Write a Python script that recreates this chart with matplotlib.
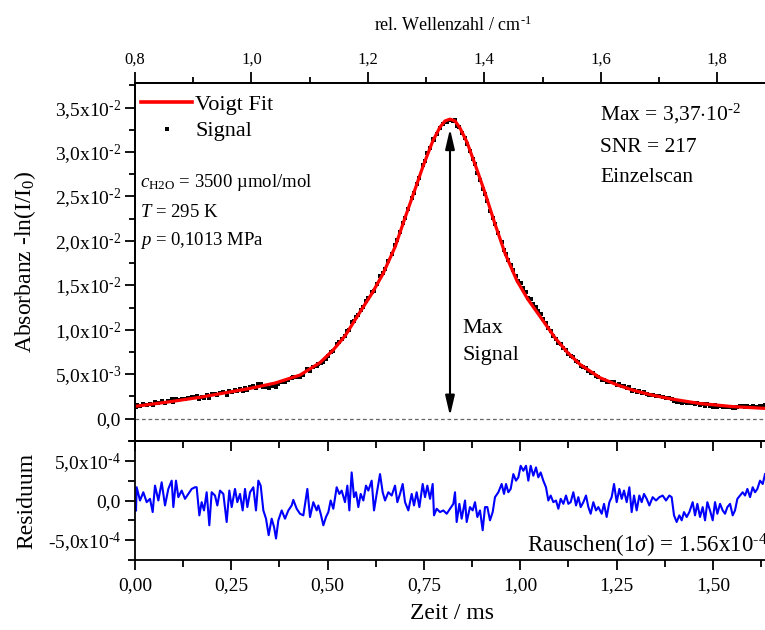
import numpy as np
import matplotlib
matplotlib.use("Agg")
import matplotlib.pyplot as plt
from matplotlib.ticker import MultipleLocator, FixedLocator, FixedFormatter
from matplotlib.lines import Line2D

plt.rcParams['font.family'] = ['Liberation Serif', 'DejaVu Serif']
plt.rcParams['mathtext.fontset'] = 'custom'
plt.rcParams['mathtext.rm'] = 'Liberation Serif'
plt.rcParams['mathtext.it'] = 'Liberation Serif:italic'
plt.rcParams['mathtext.bf'] = 'Liberation Serif:bold'

# ---------------- data ----------------
# Voigt fit: time (ms) and absorbance
t_fit = [0.0, 0.0908, 0.1687, 0.2336, 0.2985, 0.3634, 0.4282, 0.4801, 0.5139,
         0.5450, 0.5840, 0.6151, 0.6436, 0.6748, 0.7008, 0.7267, 0.7475, 0.7734,
         0.7916, 0.8046, 0.8175, 0.8305, 0.8435, 0.8617, 0.8876, 0.9084, 0.9343,
         0.9603, 0.9914, 1.0200, 1.0511, 1.0900, 1.1212, 1.1549, 1.2068, 1.2510,
         1.2925, 1.3366, 1.3807, 1.4223, 1.4664, 1.5520, 1.6351]
fit = [0.00138, 0.0019, 0.0024, 0.0029, 0.0034, 0.0040, 0.0049, 0.0063, 0.0077,
       0.0093, 0.0120, 0.0141, 0.0163, 0.0193, 0.0226, 0.0258, 0.0284, 0.0313,
       0.0328, 0.0335, 0.0337, 0.0335, 0.0327, 0.0311, 0.0280, 0.0254, 0.0219,
       0.0186, 0.0155, 0.0134, 0.0115, 0.0091, 0.0075, 0.0061, 0.0046, 0.0038,
       0.0032, 0.0027, 0.0023, 0.0020, 0.0017, 0.00135, 0.00115]

# Residual: time (ms) and value (x1e-4)
t_res = [0.0026, 0.0043, 0.0130, 0.0216, 0.0303, 0.0389, 0.0459, 0.0519, 0.0606,
         0.0692, 0.0779, 0.0865, 0.0952, 0.0995, 0.1064, 0.1125, 0.1211, 0.1298,
         0.1384, 0.1471, 0.1557, 0.1600, 0.1670, 0.1730, 0.1791, 0.1860, 0.1929,
         0.1990, 0.2076, 0.2137, 0.2206, 0.2293, 0.2379, 0.2448, 0.2509, 0.2595,
         0.2656, 0.2725, 0.2794, 0.2855, 0.2916, 0.2985, 0.3071, 0.3140, 0.3201,
         0.3262, 0.3331, 0.3400, 0.3469, 0.3547, 0.3608, 0.3660, 0.3720, 0.3807,
         0.3893, 0.3980, 0.4066, 0.4109, 0.4196, 0.4282, 0.4369, 0.4473, 0.4542,
         0.4628, 0.4715, 0.4758, 0.4819, 0.4888, 0.4957, 0.5018, 0.5078, 0.5147,
         0.5234, 0.5303, 0.5364, 0.5450, 0.5511, 0.5563, 0.5623, 0.5684, 0.5736,
         0.5796, 0.5857, 0.5926, 0.5995, 0.6056, 0.6142, 0.6203, 0.6272, 0.6359,
         0.6428, 0.6489, 0.6575, 0.6662, 0.6748, 0.6809, 0.6878, 0.6947, 0.7008,
         0.7094, 0.7181, 0.7241, 0.7310, 0.7380, 0.7466, 0.7527, 0.7587, 0.7657,
         0.7726, 0.7760, 0.7829, 0.7916, 0.8002, 0.8089, 0.8175, 0.8262, 0.8305,
         0.8348, 0.8418, 0.8478, 0.8565, 0.8608, 0.8694, 0.8764, 0.8824, 0.8885,
         0.8954, 0.9023, 0.9084, 0.9144, 0.9213, 0.9283, 0.9343, 0.9430, 0.9516,
         0.9577, 0.9629, 0.9689, 0.9750, 0.9819, 0.9888, 0.9949, 1.0009, 1.0078,
         1.0148, 1.0208, 1.0269, 1.0338, 1.0407, 1.0467, 1.0528, 1.0597, 1.0666,
         1.0727, 1.0788, 1.0857, 1.0926, 1.0987, 1.1048, 1.1117, 1.1186, 1.1247,
         1.1307, 1.1376, 1.1446, 1.1506, 1.1567, 1.1636, 1.1705, 1.1766, 1.1826,
         1.1895, 1.1965, 1.2025, 1.2112, 1.2172, 1.2241, 1.2311, 1.2371, 1.2432,
         1.2501, 1.2570, 1.2631, 1.2691, 1.2761, 1.2830, 1.2890, 1.2951, 1.3020,
         1.3089, 1.3150, 1.3210, 1.3280, 1.3349, 1.3435, 1.3522, 1.3608, 1.3695,
         1.3781, 1.3868, 1.3928, 1.3989, 1.4058, 1.4127, 1.4188, 1.4248, 1.4318,
         1.4387, 1.4473, 1.4534, 1.4595, 1.4664, 1.4733, 1.4794, 1.4854, 1.4923,
         1.4993, 1.5053, 1.5114, 1.5183, 1.5252, 1.5313, 1.5374, 1.5443, 1.5512,
         1.5572, 1.5633, 1.5702, 1.5771, 1.5832, 1.5893, 1.5962, 1.6031, 1.6092,
         1.6152, 1.6221, 1.6291, 1.6351]
res_e4 = [-1.25, 1.67, 0.0, 1.04, -0.21, 0.21, -1.46, 1.875, 0.0,
          2.29, -0.625, 1.46, 2.5, -0.83, 2.5, 0.42, 1.25, 0.21,
          0.83, 1.46, 1.67, 1.67, -1.875, -0.21, -1.25, 1.04, -3.125,
          1.04, 0.625, -0.625, 1.25, 0.83, -2.71, 1.25, -0.83, 1.46,
          -0.21, 0.83, -1.25, 1.46, -0.83, 1.04, 1.67, -1.25, 2.5,
          1.875, -1.25, -2.29, -4.375, -2.29, -3.33, -4.79, -2.5, -1.25,
          -2.29, -1.25, -0.625, 0.08, -1.04, -1.67, -1.875, 1.46, -2.08,
          -0.21, -1.25, -0.625, -1.67, -3.125, -2.08, -1.46, 0.0, -1.04,
          1.67, 0.83, 1.25, -0.21, 1.875, -1.25, 3.54, 0.42, 1.04,
          -0.83, 0.83, 0.0, 1.875, 1.25, 2.5, -1.25, 0.83, 3.33,
          1.04, 0.0, 1.04, 0.625, 1.875, -0.21, 0.83, 2.08, -0.21,
          -1.25, 0.83, -0.625, 1.04, -0.83, 2.08, 0.42, 1.875, 0.21,
          2.08, -1.875, -1.04, -1.46, -1.25, -1.67, -1.04, -0.42, 1.04,
          -2.71, -0.42, -2.29, 0.0, -2.71, -0.83, -1.25, -0.21, -2.08,
          -1.25, -3.75, -0.83, -0.83, -2.5, -1.46, 0.42, 1.04, 2.08,
          0.83, 2.08, 1.04, 1.46, 3.33, 2.5, 2.92, 4.375, 3.75,
          4.375, 2.5, 4.375, 3.125, 4.17, 2.92, 3.54, 2.5, 1.67,
          0.0, 0.625, -0.21, 0.0, -1.04, 0.21, -0.42, 0.625, -0.42,
          -0.21, 1.04, -0.625, 0.42, -0.83, -0.21, 0.625, -0.83, -1.67,
          -0.21, -1.25, -0.83, -1.67, -0.42, -2.08, -0.21, 0.42, 2.08,
          -0.21, 1.46, 0.21, 1.25, -0.21, 1.67, -1.46, 0.625, -1.25,
          0.625, -0.21, 0.83, 0.21, -0.625, 0.42, 0.0, 0.42, 0.625,
          0.0, 0.625, 0.42, -1.875, -2.71, -1.875, -2.5, -1.46, -2.08,
          -1.46, -0.21, -1.875, -0.42, -2.08, -0.83, -2.5, -0.21, -1.25,
          -2.5, -0.21, -1.67, -0.42, -1.25, -1.67, -0.83, -0.42, -1.875,
          -1.25, 0.21, 0.625, 1.04, 0.625, 1.46, 0.42, 1.67, 1.04,
          1.46, 2.5, 2.08, 3.33]

peak_t = 0.8175
peak_max = 0.0337

y_ticks = [0.0, 0.005, 0.010, 0.015, 0.020, 0.025, 0.030, 0.035]
y_ticklabels = ["0,0", "5,0x10$^{\\text{-3}}$", "1,0x10$^{\\text{-2}}$", "1,5x10$^{\\text{-2}}$",
                "2,0x10$^{\\text{-2}}$", "2,5x10$^{\\text{-2}}$", "3,0x10$^{\\text{-2}}$",
                "3,5x10$^{\\text{-2}}$"]
r_ticks = [-5e-4, 0.0, 5e-4]
r_ticklabels = ["-5,0x10$^{\\text{-4}}$", "0,0", "5,0x10$^{\\text{-4}}$"]
x_ticks = [0.0, 0.25, 0.5, 0.75, 1.0, 1.25, 1.5]
x_ticklabels = ["0,00", "0,25", "0,50", "0,75", "1,00", "1,25", "1,50"]
wn_ticks = [0.8, 1.0, 1.2, 1.4, 1.6, 1.8]
wn_ticklabels = ["0,8", "1,0", "1,2", "1,4", "1,6", "1,8"]

# ---------------- derived ----------------
t_res_a = np.array(t_res)
res = np.array(res_e4) * 1e-4
signal = np.interp(t_res_a, t_fit, fit) + res

# ---------------- figure ----------------
W, H = 765, 630
fig = plt.figure(figsize=(W / 100, H / 100), dpi=100)

def px(x0, y0, x1, y1):
    return [x0 / W, 1 - y1 / H, (x1 - x0) / W, (y1 - y0) / H]

ax = fig.add_axes(px(135, 83, 770, 441))
axr = fig.add_axes(px(135, 441, 770, 560))

xmax = 1.648
ms_to_wn = 0.6617

lw_sp = 1.3
for a in (ax, axr):
    for s in a.spines.values():
        s.set_linewidth(lw_sp)
    a.set_xlim(0, xmax)

# top panel
ax.plot(t_res_a, signal, ls='none', marker='s', ms=3.2, mew=0, color='black', zorder=3)
ax.plot(t_fit, fit, color='#ff0000', lw=2.3, zorder=4)
ax.axhline(0, color='#666666', lw=0.9, ls=(0, (3, 2.2)), zorder=1)
ax.set_ylim(-0.00252, 0.03777)
ax.yaxis.set_major_locator(FixedLocator(y_ticks))
ax.yaxis.set_major_formatter(FixedFormatter(y_ticklabels))
ax.yaxis.set_minor_locator(MultipleLocator(0.0025))
ax.tick_params(axis='y', which='both', direction='out', left=True, right=False,
               labelsize=14, width=lw_sp, pad=3)
ax.tick_params(axis='y', which='major', length=7)
ax.tick_params(axis='y', which='minor', length=4)
ax.tick_params(axis='x', which='both', bottom=False, top=False, labelbottom=False)
ax.set_ylabel("Absorbanz -ln(I/I$_0$)", fontsize=17)
ax.yaxis.set_label_coords(-0.153, 0.5)

# arrow
ax.annotate('', xy=(peak_t, 0), xytext=(peak_t, peak_max),
            arrowprops=dict(arrowstyle='<|-|>,head_length=0.6,head_width=0.14',
                            color='black', lw=1.5, shrinkA=7, shrinkB=2,
                            mutation_scale=20), zorder=5)
ax.text(0.515, 0.3017, "Max", transform=ax.transAxes, fontsize=16, va='baseline')
ax.text(0.515, 0.2263, "Signal", transform=ax.transAxes, fontsize=16, va='baseline')

# info texts
ax.text(0.7323, 0.8966, "Max = 3,37$\\cdot$10$^{\\text{-2}}$", transform=ax.transAxes,
        fontsize=15.5, va='baseline')
ax.text(0.7323, 0.8073, "SNR = 217", transform=ax.transAxes, fontsize=15.5, va='baseline')
ax.text(0.7323, 0.7235, "Einzelscan", transform=ax.transAxes, fontsize=15.5, va='baseline')

ax.text(0.0079, 0.7095, "$c_{\\mathrm{H2O}}$ = 3500 µmol/mol", transform=ax.transAxes,
        fontsize=13.5, va='baseline')
ax.text(0.0079, 0.6257, "$T$ = 295 K", transform=ax.transAxes, fontsize=13.5, va='baseline')
ax.text(0.0079, 0.5475, "$p$ = 0,1013 MPa", transform=ax.transAxes, fontsize=13.5, va='baseline')

# legend
h_fit = Line2D([], [], color='#ff0000', lw=2.6)
h_sig = Line2D([], [], color='black', ls='none', marker='s', ms=2.8, mew=0)
ax.legend([h_fit, h_sig], ["Voigt Fit", "Signal"], loc='upper left',
          bbox_to_anchor=(0.0095, 0.969), frameon=False, fontsize=16,
          handlelength=2.3, handletextpad=0.15, borderaxespad=0, borderpad=0,
          labelspacing=0.28)

# top axis (wavenumber)
ax2 = ax.twiny()
ax2.set_xlim(0.8, 0.8 + xmax * ms_to_wn)
ax2.xaxis.set_major_locator(FixedLocator(wn_ticks))
ax2.xaxis.set_major_formatter(FixedFormatter(wn_ticklabels))
ax2.xaxis.set_minor_locator(MultipleLocator(0.1))
ax2.tick_params(axis='x', which='both', direction='out', top=True, bottom=False,
                labeltop=True, labelsize=12, width=lw_sp, pad=3)
ax2.tick_params(axis='x', which='major', length=8)
ax2.tick_params(axis='x', which='minor', length=4)
ax2.set_xlabel("rel. Wellenzahl / cm$^{\\text{-1}}$", fontsize=13, labelpad=15)
for s in ax2.spines.values():
    s.set_linewidth(lw_sp)

# residual panel
axr.plot(t_res_a, res, color='#0000ff', lw=1.5)
axr.set_ylim(-7.5e-4, 7.5e-4)
axr.yaxis.set_major_locator(FixedLocator(r_ticks))
axr.yaxis.set_major_formatter(FixedFormatter(r_ticklabels))
axr.yaxis.set_minor_locator(MultipleLocator(2.5e-4))
axr.xaxis.set_major_locator(FixedLocator(x_ticks))
axr.xaxis.set_major_formatter(FixedFormatter(x_ticklabels))
axr.xaxis.set_minor_locator(MultipleLocator(0.125))
axr.tick_params(axis='y', which='both', direction='out', left=True, right=False,
                labelsize=14, width=lw_sp, pad=3)
axr.tick_params(axis='x', which='both', direction='out', bottom=True, top=False,
                labelsize=14, width=lw_sp, pad=5)
axr.tick_params(axis='both', which='major', length=7)
axr.tick_params(axis='both', which='minor', length=5)
# inward ticks along the top edge of the residual panel
axt = axr.secondary_xaxis('top')
axt.xaxis.set_major_locator(FixedLocator(x_ticks))
axt.xaxis.set_minor_locator(MultipleLocator(0.125))
axt.tick_params(axis='x', which='both', direction='in', labeltop=False, width=lw_sp)
axt.tick_params(axis='x', which='major', length=7)
axt.tick_params(axis='x', which='minor', length=5)
axt.spines['top'].set_linewidth(lw_sp)

axr.set_ylabel("Residuum", fontsize=17)
axr.yaxis.set_label_coords(-0.153, 0.5)
axr.set_xlabel("Zeit / ms", fontsize=17, labelpad=7)
axr.text(0.617, 0.061, "Rauschen(1$\\sigma$) = 1.56x10$^{\\text{-4}}$", transform=axr.transAxes,
         fontsize=16.5, va='baseline', clip_on=False)

fig.savefig("out.png", dpi=100)
